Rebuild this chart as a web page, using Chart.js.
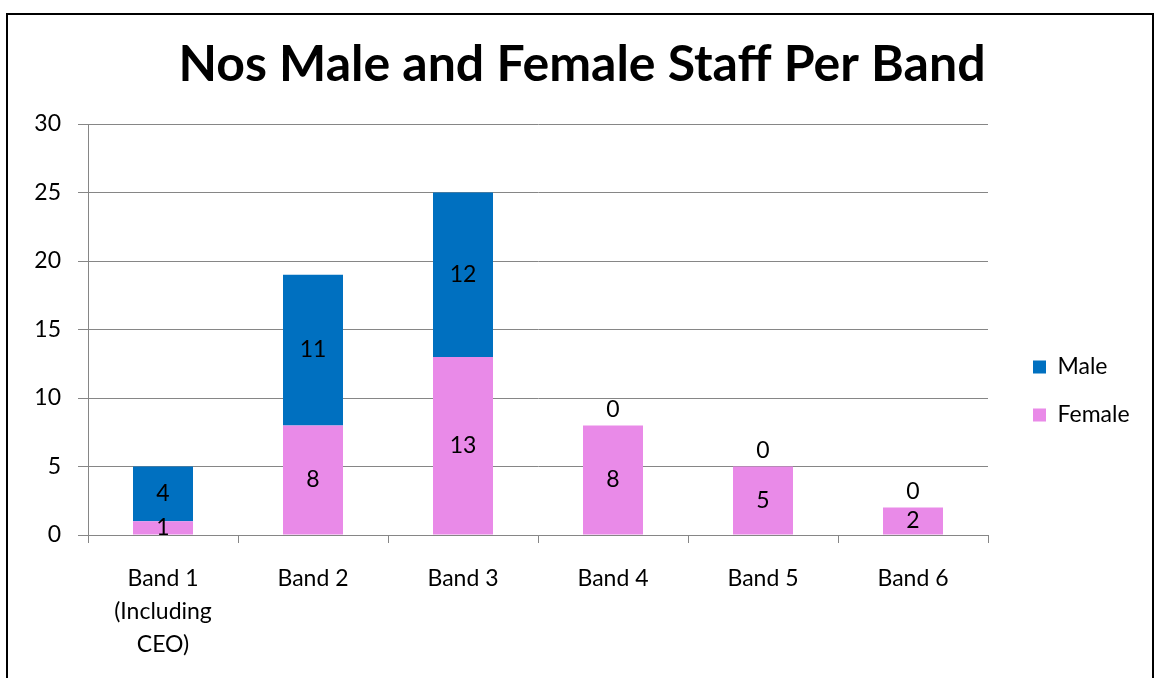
<!DOCTYPE html>
<html>
<head>
<meta charset="utf-8">
<script src="https://cdn.jsdelivr.net/npm/chart.js@4/dist/chart.umd.min.js"></script>
<style>
html,body{margin:0;padding:0;background:#fff;}
#wrap{position:relative;width:1160px;height:678px;overflow:hidden;}
#frame{position:absolute;left:6px;top:13px;width:1144px;height:700px;border:2px solid #000;pointer-events:none;}
canvas{position:absolute;left:0;top:0;}
</style>
</head>
<body>
<div id="wrap">
<canvas id="staffChart" width="1160" height="678"></canvas>
<div id="frame"></div>
</div>
<script>
const bands=[["Band 1","(Including","CEO)"],"Band 2","Band 3","Band 4","Band 5","Band 6"];
const male=[4,11,12,0,0,0];
const female=[1,8,13,8,5,2];
const yTicks=[0,5,10,15,20,25,30];

const gridGrey="#868686";

// numbers on the bars, zero sits just above the stack
const valueLabels={
id:"valueLabels",
afterDatasetsDraw(chart){
const ctx=chart.ctx;
ctx.save();
ctx.font="23px Lato";
ctx.fillStyle="#000";
ctx.textAlign="center";
ctx.textBaseline="middle";
chart.data.datasets.forEach((ds,i)=>{
chart.getDatasetMeta(i).data.forEach((bar,j)=>{
const v=ds.data[j];
const y=v===0?bar.y-16:(bar.y+bar.base)/2;
ctx.fillText(String(v),bar.x,y);
});
});
ctx.restore();
}
};

// legend to the right of the plot, title centred on the whole canvas
const placeBlocks={
id:"placeBlocks",
afterUpdate(chart){
const lg=chart.legend,a=chart.chartArea;
lg.left=a.right+20;
lg.right=chart.width;
lg.top=(a.top+a.bottom)/2+1;
lg.bottom=lg.top+200;
const t=chart.titleBlock;
t.left=0;
t.right=chart.width+4;
}
};

new Chart(document.getElementById("staffChart"),{
type:"bar",
data:{
labels:bands,
datasets:[
{label:"Female",data:female,backgroundColor:"#E98AE8",barPercentage:0.4,categoryPercentage:1},
{label:"Male",data:male,backgroundColor:"#0070C0",barPercentage:0.4,categoryPercentage:1}
]
},
options:{
responsive:false,
animation:false,
layout:{padding:{left:8,right:172,top:0,bottom:0}},
plugins:{
title:{
display:true,
text:"Nos Male and Female Staff Per Band",
color:"#000",
font:{family:"Lato",size:50,weight:"bold",lineHeight:1.1},
padding:{top:37,bottom:32}
},
legend:{
position:"chartArea",
align:"start",
reverse:true,
labels:{
boxWidth:13,boxHeight:13,padding:25,color:"#000",
font:{family:"Lato",size:23}
}
},
tooltip:{enabled:false}
},
scales:{
x:{
stacked:true,
grid:{drawOnChartArea:false,drawTicks:true,tickLength:8,color:gridGrey},
border:{color:gridGrey},
ticks:{color:"#000",padding:19,font:{family:"Lato",size:23,lineHeight:1.44},maxRotation:0,autoSkip:false},
afterFit(s){s.height=143;}
},
y:{
stacked:true,
min:0,max:30,
afterBuildTicks(s){s.ticks=yTicks.map(v=>({value:v}));},
grid:{color:gridGrey,tickLength:10},
border:{color:gridGrey},
ticks:{color:"#000",padding:17,font:{family:"Lato",size:23}},
afterFit(s){s.width=80;}
}
}
},
plugins:[valueLabels,placeBlocks]
});
</script>
</body>
</html>
